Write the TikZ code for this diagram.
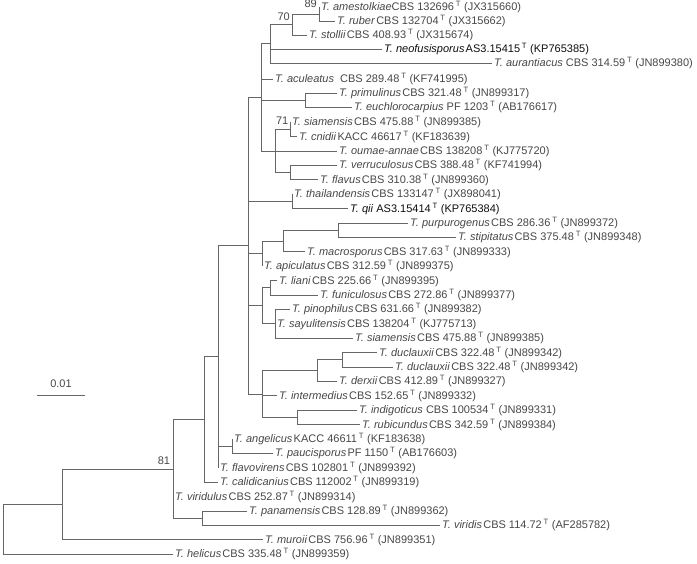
\documentclass[tikz,border=0pt]{standalone}
\usepackage{fontspec}
\setmainfont{Liberation Sans}
\newcommand\tlab[4][\hspace{1.2pt}]{\textit{T. #2}#1#3\,\textsuperscript{T} (#4)}
\begin{document}
\begin{tikzpicture}[x=1pt,y=-1pt,
  br/.style={draw=black!60, line width=0.8pt},
  leaf/.style={anchor=west, inner sep=0pt, xshift=2pt, font=\fontsize{11}{12}\selectfont, text=black!72},
  hl/.style={text=black!95},
  bs/.style={inner sep=0pt, font=\fontsize{11}{12}\selectfont, text=black!72}]
\useasboundingbox (0,0) rectangle (697,564);
% tips
\coordinate (t1) at (319,7);
\coordinate (t2) at (335,21);
\coordinate (t3) at (307,35);
\coordinate (t4) at (382,49);
\coordinate (t5) at (492,63);
\coordinate (t6) at (273,79);
\coordinate (t7) at (337,93);
\coordinate (t8) at (352,107);
\coordinate (t9) at (290,122);
\coordinate (t10) at (297,136.6);
\coordinate (t11) at (337,151);
\coordinate (t12) at (337,165.4);
\coordinate (t13) at (318,179.8);
\coordinate (t14) at (292,194.2);
\coordinate (t15) at (348,208.6);
\coordinate (t16) at (408,223);
\coordinate (t17) at (456,237.4);
\coordinate (t18) at (305,251.8);
\coordinate (t19) at (262,266.2);
\coordinate (t20) at (277,280.6);
\coordinate (t21) at (318,295);
\coordinate (t22) at (290,309.4);
\coordinate (t23) at (275,323.8);
\coordinate (t24) at (353,338.2);
\coordinate (t25) at (377,352.6);
\coordinate (t26) at (393,367);
\coordinate (t27) at (337,381.4);
\coordinate (t28) at (277,395.8);
\coordinate (t29) at (357,410.2);
\coordinate (t30) at (360,424.6);
\coordinate (t31) at (232,439);
\coordinate (t32) at (273,453.4);
\coordinate (t33) at (218,467.8);
\coordinate (t34) at (218,482.2);
\coordinate (t35) at (173,496.6);
\coordinate (t36) at (247,511);
\coordinate (t37) at (440,525.4);
\coordinate (t38) at (263,539.8);
\coordinate (t39) at (173,554.2);
% internal nodes
\coordinate (n89) at (319,14);
\coordinate (n70) at (292,24.5);
\coordinate (nA) at (270,43.8);
\coordinate (nPr) at (305,100);
\coordinate (nSC) at (290,129.3);
\coordinate (nVF) at (290,172.6);
\coordinate (nC) at (275,151);
\coordinate (nB) at (261,97.4);
\coordinate (nTQ) at (292,201.4);
\coordinate (nP1) at (338,230.2);
\coordinate (nP2) at (283,241);
\coordinate (nP3) at (262,253.6);
\coordinate (nL1) at (270,287.8);
\coordinate (nL2) at (275,323.8);
\coordinate (nL) at (262,305.8);
\coordinate (nQ1) at (342,359.8);
\coordinate (nQ2) at (317,370.6);
\coordinate (nR) at (297,417.4);
\coordinate (nQ) at (262,394);
\coordinate (nD) at (248,245.7);
\coordinate (nAP) at (232,446.2);
\coordinate (nE) at (218,356.8);
\coordinate (nF) at (204,419.5);
\coordinate (nPV) at (202,518.2);
\coordinate (nG) at (173,468.9);
\coordinate (nH) at (62,504.3);
\coordinate (nRoot) at (3,529.3);
% branches
\draw[br] (n89) |- (t1) (n89) |- (t2);
\draw[br] (n70) |- (n89) (n70) |- (t3);
\draw[br] (nA) |- (n70) (nA) |- (t4) (nA) |- (t5);
\draw[br] (nB) |- (nA) (nB) |- (t6) (nB) |- (nPr) (nB) |- (nC);
\draw[br] (nPr) |- (t7) (nPr) |- (t8);
\draw[br] (nC) |- (nSC) (nC) |- (t11) (nC) |- (nVF);
\draw[br] (nSC) |- (t9) (nSC) |- (t10);
\draw[br] (nVF) |- (t12) (nVF) |- (t13);
\draw[br] (nTQ) |- (t14) (nTQ) |- (t15);
\draw[br] (nP1) |- (t16) (nP1) |- (t17);
\draw[br] (nP2) |- (nP1) (nP2) |- (t18);
\draw[br] (nP3) |- (nP2) (nP3) |- (t19);
\draw[br] (nL1) |- (t20) (nL1) |- (t21);
\draw[br] (nL2) |- (t22) (nL2) |- (t23) (nL2) |- (t24);
\draw[br] (nL) |- (nL1) (nL) |- (nL2);
\draw[br] (nQ1) |- (t25) (nQ1) |- (t26);
\draw[br] (nQ2) |- (nQ1) (nQ2) |- (t27);
\draw[br] (nR) |- (t29) (nR) |- (t30);
\draw[br] (nQ) |- (nQ2) (nQ) |- (t28) (nQ) |- (nR);
\draw[br] (nD) |- (nB) (nD) |- (nTQ) (nD) |- (nP3) (nD) |- (nL) (nD) |- (nQ);
\draw[br] (nAP) |- (t31) (nAP) |- (t32);
\draw[br] (nE) |- (nD) (nE) |- (nAP) (nE) |- (t33);
\draw[br] (nF) |- (nE) (nF) |- (t34);
\draw[br] (nPV) |- (t36) (nPV) |- (t37);
\draw[br] (nG) |- (nF) (nG) |- (t35) (nG) |- (nPV);
\draw[br] (nH) |- (nG) (nH) |- (t38);
\draw[br] (nRoot) |- (nH) (nRoot) |- (t39);
% leaf labels
\node[leaf] (l1) at (t1) {\tlab[]{amestolkiae}{CBS 132696}{JX315660}};
\node[leaf] (l2) at (t2) {\tlab{ruber}{CBS 132704}{JX315662}};
\node[leaf] (l3) at (t3) {\tlab{stollii}{CBS 408.93}{JX315674}};
\node[leaf,hl] (l4) at (t4) {\tlab{neofusisporus}{AS3.15415}{KP765385}};
\node[leaf] (l5) at (t5) {\tlab[ ]{aurantiacus}{CBS 314.59}{JN899380}};
\node[leaf] (l6) at (t6) {\tlab[\hspace{6pt}]{aculeatus}{CBS 289.48}{KF741995}};
\node[leaf] (l7) at (t7) {\tlab{primulinus}{CBS 321.48}{JN899317}};
\node[leaf] (l8) at (t8) {\tlab[ ]{euchlorocarpius}{PF 1203}{AB176617}};
\node[leaf] (l9) at (t9) {\tlab{siamensis}{CBS 475.88}{JN899385}};
\node[leaf] (l10) at (t10) {\tlab{cnidii}{KACC 46617}{KF183639}};
\node[leaf] (l11) at (t11) {\tlab{oumae-annae}{CBS 138208}{KJ775720}};
\node[leaf] (l12) at (t12) {\tlab{verruculosus}{CBS 388.48}{KF741994}};
\node[leaf] (l13) at (t13) {\tlab{flavus}{CBS 310.38}{JN899360}};
\node[leaf] (l14) at (t14) {\tlab{thailandensis}{CBS 133147}{JX898041}};
\node[leaf,hl] (l15) at (t15) {\tlab[ ]{qii}{AS3.15414}{KP765384}};
\node[leaf] (l16) at (t16) {\tlab{purpurogenus}{CBS 286.36}{JN899372}};
\node[leaf] (l17) at (t17) {\tlab{stipitatus}{CBS 375.48}{JN899348}};
\node[leaf] (l18) at (t18) {\tlab{macrosporus}{CBS 317.63}{JN899333}};
\node[leaf] (l19) at (t19) {\tlab{apiculatus}{CBS 312.59}{JN899375}};
\node[leaf] (l20) at (t20) {\tlab{liani}{CBS 225.66}{JN899395}};
\node[leaf] (l21) at (t21) {\tlab{funiculosus}{CBS 272.86}{JN899377}};
\node[leaf] (l22) at (t22) {\tlab{pinophilus}{CBS 631.66}{JN899382}};
\node[leaf] (l23) at (t23) {\tlab{sayulitensis}{CBS 138204}{KJ775713}};
\node[leaf] (l24) at (t24) {\tlab{siamensis}{CBS 475.88}{JN899385}};
\node[leaf] (l25) at (t25) {\tlab{duclauxii}{CBS 322.48}{JN899342}};
\node[leaf] (l26) at (t26) {\tlab{duclauxii}{CBS 322.48}{JN899342}};
\node[leaf] (l27) at (t27) {\tlab{derxii}{CBS 412.89}{JN899327}};
\node[leaf] (l28) at (t28) {\tlab{intermedius}{CBS 152.65}{JN899332}};
\node[leaf] (l29) at (t29) {\tlab[ ]{indigoticus}{CBS 100534}{JN899331}};
\node[leaf] (l30) at (t30) {\tlab{rubicundus}{CBS 342.59}{JN899384}};
\node[leaf] (l31) at (t31) {\tlab{angelicus}{KACC 46611}{KF183638}};
\node[leaf] (l32) at (t32) {\tlab{paucisporus}{PF 1150}{AB176603}};
\node[leaf] (l33) at (t33) {\tlab{flavovirens}{CBS 102801}{JN899392}};
\node[leaf] (l34) at (t34) {\tlab{calidicanius}{CBS 112002}{JN899319}};
\node[leaf] (l35) at (t35) {\tlab{viridulus}{CBS 252.87}{JN899314}};
\node[leaf] (l36) at (t36) {\tlab{panamensis}{CBS 128.89}{JN899362}};
\node[leaf] (l37) at (t37) {\tlab{viridis}{CBS 114.72}{AF285782}};
\node[leaf] (l38) at (t38) {\tlab{muroii}{CBS 756.96}{JN899351}};
\node[leaf] (l39) at (t39) {\tlab{helicus}{CBS 335.48}{JN899359}};
% bootstrap values
\node[bs, anchor=east] (b89) at (317,4) {89};
\node[bs, anchor=east] (b70) at (290,17) {70};
\node[bs, anchor=east] (b71) at (288.5,121) {71};
\node[bs] (b81) at (164,461) {81};
% scale bar
\coordinate (sb1) at (37,395);
\coordinate (sb2) at (85,395);
\draw[br] (sb1) -- (sb2);
\node[bs] (sbl) at (61,384) {0.01};
\end{tikzpicture}
\end{document}
